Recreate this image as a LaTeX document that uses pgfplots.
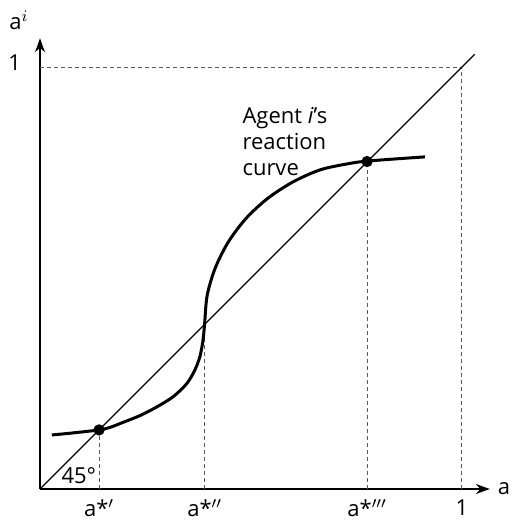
\documentclass[border=0pt]{standalone}
\usepackage{pgfplots}
\pgfplotsset{compat=1.18}
\usepackage{fontspec}
\setmainfont{Open Sans}
\usetikzlibrary{arrows.meta}
\begin{document}
\begin{tikzpicture}
\begin{axis}[
  at={(0,0)}, anchor=origin,
  x=211pt, y=211pt,
  scale only axis,
  xmin=0, xmax=1.066, ymin=0, ymax=1.068,
  axis lines=left,
  axis line style={line width=0.8pt, -{Stealth[length=7pt,width=5pt]}},
  xtick={0.14,0.39,0.775,1},
  xticklabels={a*$^{\prime}$, a*$^{\prime\prime}$, a*$^{\prime\prime\prime}$, 1},
  ytick={1}, yticklabels={1},
  major tick length=0pt,
  tick label style={font=\fontsize{11}{13}\selectfont},
  xticklabel style={yshift=-2pt},
  yticklabel style={xshift=-6pt, yshift=2pt},
  /pgf/number format/assume math mode=true,
  clip=false,
]
% guide lines
\addplot[gray!70!black, line width=0.5pt, dash pattern=on 2pt off 1.5pt] coordinates {(0,1) (1,1) (1,0)};
\addplot[gray!70!black, line width=0.5pt, dash pattern=on 2pt off 1.5pt] coordinates {(0.14,0) (0.14,0.14)};
\addplot[gray!70!black, line width=0.5pt, dash pattern=on 2pt off 1.5pt] coordinates {(0.39,0) (0.39,0.39)};
\addplot[gray!70!black, line width=0.5pt, dash pattern=on 2pt off 1.5pt] coordinates {(0.775,0) (0.775,0.775)};
% 45 degree line
\addplot[black, line width=0.6pt] coordinates {(0,0) (1.03,1.03)};
% reaction curve
\addplot[black, line width=1.5pt, smooth, tension=0.5] coordinates {
(0.028,0.128) (0.079,0.133) (0.14,0.14) (0.166,0.146) (0.197,0.158) (0.237,0.174) (0.276,0.194) (0.316,0.219) (0.348,0.250) (0.367,0.282) (0.379,0.314) (0.386,0.351) (0.39,0.39) (0.396,0.458) (0.415,0.523) (0.446,0.585) (0.488,0.641) (0.540,0.689) (0.600,0.728) (0.666,0.757) (0.737,0.772) (0.775,0.777) (0.84,0.782) (0.912,0.787)};
% equilibria
\addplot[only marks, mark=*, mark size=2.6pt, black] coordinates {(0.14,0.14) (0.775,0.776)};
\node[anchor=north west, align=left, font=\fontsize{11}{13}\selectfont, inner sep=0pt] at (axis cs:0.479,0.905) {Agent \textit{i}'s\\reaction\\curve};
\node[font=\fontsize{11}{13}\selectfont] at (axis cs:0.092,0.031) {45°};
\node[font=\fontsize{11}{13}\selectfont, anchor=west, inner sep=0pt] at (axis cs:1.084,0.0) {a};
\node[font=\fontsize{11}{13}\selectfont] at (axis cs:-0.05,1.11) {a$^{i}$};
\end{axis}
\pgfresetboundingbox
\path[use as bounding box] (-20pt,-16pt) rectangle (235.5pt,244.5pt);
\end{tikzpicture}
\end{document}
